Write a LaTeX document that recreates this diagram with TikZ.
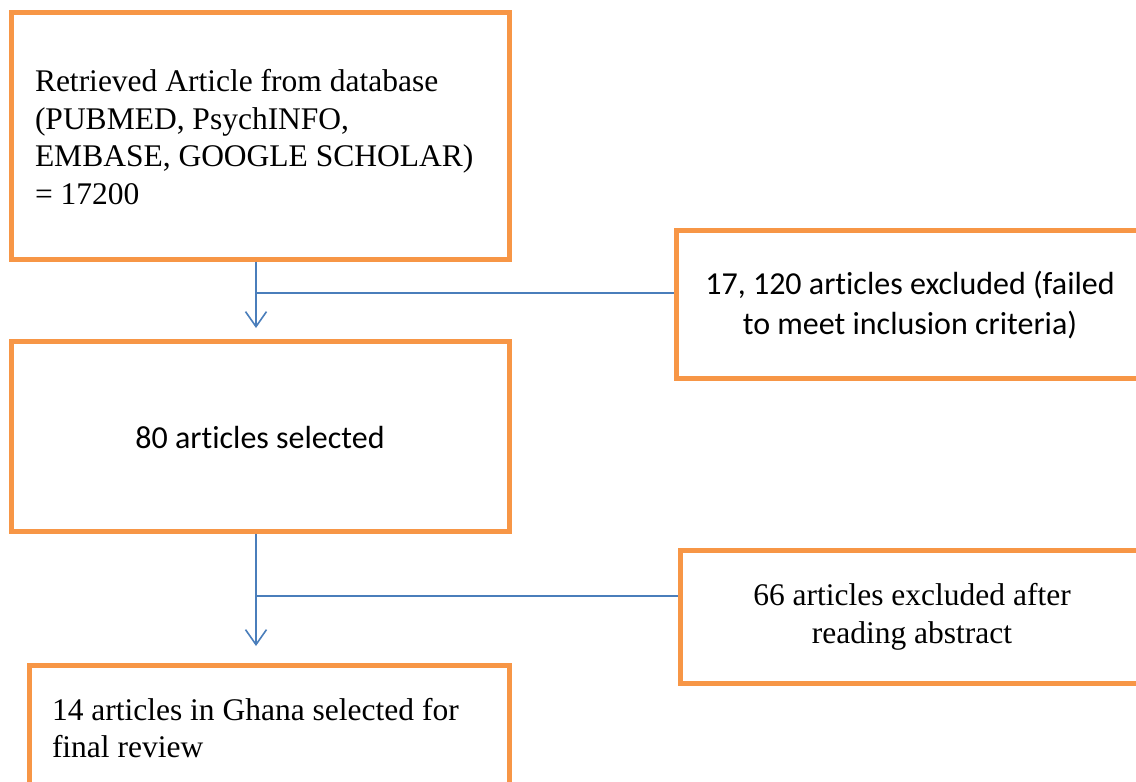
\documentclass[tikz,border=0pt]{standalone}
\usepackage{fontspec}
\setmainfont{Liberation Serif}
\newfontfamily\calfont[RawFeature=-liga]{Carlito}
\usetikzlibrary{arrows.meta}
\definecolor{boxorange}{HTML}{F79646}
\definecolor{linkblue}{HTML}{4A7EBB}
\begin{document}
\begin{tikzpicture}[x=1pt,y=-1pt,
  obox/.style={draw=boxorange, line width=5pt, fill=white, rectangle, inner sep=0pt},
  serif/.style={font=\fontsize{31.5}{37.5}\selectfont},
  sans/.style={font=\calfont\fontsize{32}{40}\selectfont},
  link/.style={draw=linkblue, line width=1.6pt},
  arr/.style={link, -{Straight Barb[length=15pt,width=21pt,line width=1.6pt]}}]
\useasboundingbox (0,0) rectangle (1136,782);
% boxes
\node[obox, minimum width=498pt, minimum height=247pt] (b1) at (260,135.5) {};
\node[serif, text width=460pt, align=flush left] (t1) at (265,137) {Retrieved Article from database\\(PUBMED, PsychINFO,\\EMBASE, GOOGLE SCHOLAR)\\= 17200};
\node[obox, minimum width=498pt, minimum height=190pt] (b2) at (260,436) {};
\node[sans] (t2) at (260,438) {80 articles selected};
\node[obox, minimum width=480pt, minimum height=126pt] (b3) at (269,728) {};
\node[serif, text width=440pt, align=flush left] (t3) at (272,728) {14 articles in Ghana selected for\\final review};
\node[obox, minimum width=468pt, minimum height=148pt] (r1) at (910,304) {};
\node[sans, align=center] (tr1) at (910,305) {17, 120 articles excluded (failed\\to meet inclusion criteria)};
\node[obox, minimum width=464pt, minimum height=133pt] (r2) at (912,616.5) {};
\node[serif, align=center] (tr2) at (912,617) {66 articles excluded after\\reading abstract};
% connectors
\coordinate (a1) at (256,328);
\coordinate (j1) at (256,293);
\draw[arr] (b1.south -| a1) -- (a1);
\draw[link] (j1) -- (j1 -| r1.west);
\coordinate (a2) at (256,646);
\coordinate (j2) at (256,596);
\draw[arr] (b2.south -| a2) -- (a2);
\draw[link] (j2) -- (j2 -| r2.west);
\end{tikzpicture}
\end{document}
